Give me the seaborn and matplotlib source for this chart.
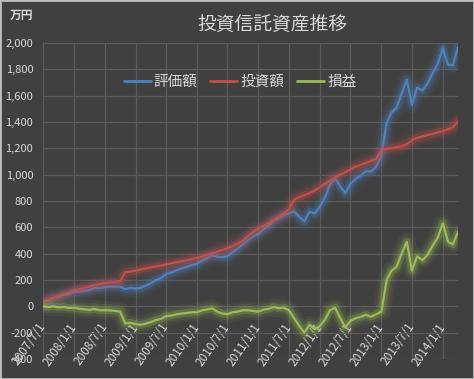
import pandas as pd
import seaborn as sns
import matplotlib.pyplot as plt
import matplotlib.patheffects as pe
from matplotlib.lines import Line2D
from matplotlib.patches import Rectangle

# monthly points, 2007/7 .. 2014/4 (万円)
dates = pd.date_range("2007-07-01", "2014-04-01", freq="MS")

invest = [35, 50, 65, 78, 92, 105, 120, 130, 140, 150, 160, 168,
          175, 180, 185, 190, 260, 265, 270, 280, 288, 295, 303, 310,
          318, 326, 334, 342, 350, 358, 368, 378, 390, 402, 415, 428,
          440, 458, 478, 500, 535, 565, 590, 610, 630, 655, 680, 705,
          735, 810, 830, 845, 860, 880, 905, 930, 955, 980, 1000, 1020,
          1040, 1060, 1075, 1090, 1105, 1120, 1185, 1195, 1200, 1210, 1215, 1230,
          1260, 1280, 1290, 1300, 1310, 1320, 1330, 1345, 1360, 1405]

value = [35, 45, 65, 70, 87, 93, 110, 112, 118, 122, 140, 138,
         145, 150, 150, 150, 130, 140, 135, 140, 156, 175, 198, 215,
         243, 256, 274, 287, 300, 313, 323, 348, 365, 387, 375, 373,
         380, 413, 438, 470, 505, 530, 550, 585, 610, 650, 665, 695,
         705, 720, 680, 645, 720, 705, 755, 830, 925, 970, 910, 860,
         930, 970, 995, 1025, 1025, 1060, 1145, 1395, 1470, 1510, 1615, 1720,
         1530, 1660, 1640, 1690, 1770, 1840, 1960, 1835, 1830, 1970]

profit = [0, -5, 0, -8, -5, -12, -10, -18, -22, -28, -20, -30,
          -30, -30, -35, -40, -130, -125, -135, -140, -132, -120, -105, -95,
          -75, -70, -60, -55, -50, -45, -45, -30, -25, -15, -40, -55,
          -60, -45, -40, -30, -30, -35, -40, -25, -20, -5, -15, -10,
          -30, -90, -150, -200, -140, -175, -150, -100, -30, -10, -90, -160,
          -110, -90, -80, -65, -80, -60, -40, 200, 270, 300, 400, 490,
          270, 380, 350, 390, 460, 520, 630, 490, 470, 565]

series_names = ["評価額", "投資額", "損益"]
series_colors = ["#4f81bd", "#c0504d", "#9bbb59"]

xtick_dates = pd.date_range("2007-07-01", "2014-01-01", freq="6MS")
xtick_labels = [f"{d.year}/{d.month}/{d.day}" for d in xtick_dates]
yticks = list(range(-400, 2001, 200))

bg = "#404040"
txt = "#d9d9d9"

sns.set_style("dark", {"axes.facecolor": bg, "figure.facecolor": bg})
plt.rcParams["font.family"] = ["Noto Sans CJK JP", "DejaVu Sans"]

fig = plt.figure(figsize=(4.74, 3.79), dpi=100)
ax = fig.add_axes([43 / 474, 1 - 359 / 379, 415 / 474, 316 / 379])
ax.set_facecolor(bg)

# soft glow like the Excel line effect
glow = [pe.Stroke(linewidth=13, alpha=0.07), pe.Stroke(linewidth=9, alpha=0.12),
        pe.Stroke(linewidth=5.5, alpha=0.25), pe.Normal()]

for name, vals, col in zip(series_names, [value, invest, profit], series_colors):
    sns.lineplot(x=dates, y=vals, color=col, linewidth=1.6, ax=ax,
                 path_effects=glow, legend=False)

# x axis sits on the zero line (must come before tick setup)
ax.spines["bottom"].set_position(("data", 0))
for s in ax.spines.values():
    s.set_visible(False)

ax.set_xlim(dates[0], dates[-1])
ax.set_ylim(-400, 2000)
ax.set_xticks(xtick_dates)
ax.set_xticklabels(xtick_labels, rotation=55, ha="right", va="center",
                   rotation_mode="anchor", fontsize=8.5, color=txt)
ax.set_yticks(yticks)
ax.set_yticklabels([f"{v:,}" for v in yticks], fontsize=8, color=txt)
ax.tick_params(axis="both", length=0)
ax.tick_params(axis="x", pad=13)
ax.tick_params(axis="y", pad=7)
ax.grid(True, color="#5a5a5a", linewidth=0.9)
ax.set_axisbelow(True)
ax.set_xlabel("")
ax.set_ylabel("")

fig.text(272 / 474, 1 - 24 / 379, "投資信託資産推移", ha="center", va="center",
         fontsize=13.5, color=txt)
fig.text(10 / 474, 1 - 15 / 379, "万円", ha="left", va="center",
         fontsize=8.5, color=txt, fontweight="bold")

handles = [Line2D([], [], color=c, linewidth=2) for c in series_colors]
fig.legend(handles, series_names, loc="center", ncol=3, frameon=False,
           bbox_to_anchor=(240 / 474, 1 - 82 / 379), fontsize=10.5,
           labelcolor=txt, handlelength=1.85, handletextpad=0.2,
           columnspacing=0.9)

fig.patches.append(Rectangle((0, 0), 1, 1, transform=fig.transFigure,
                             fill=False, edgecolor="#bfbfbf", linewidth=2))

fig.savefig("out.png", dpi=100, facecolor=bg)
